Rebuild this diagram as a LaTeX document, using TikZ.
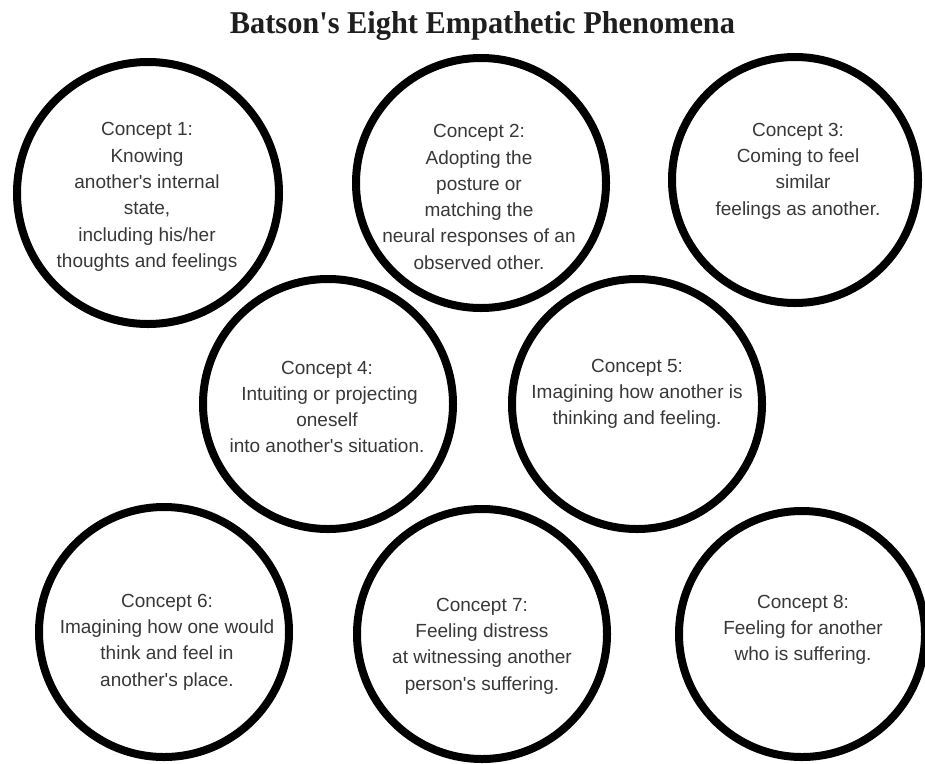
\documentclass[tikz,border=0pt]{standalone}
\usepackage{fontspec}
\setmainfont{Liberation Sans}
\newfontfamily\titlefont{Liberation Serif}
\usepackage{graphicx}
\definecolor{txt}{HTML}{383838}
\definecolor{ttl}{HTML}{1E1E1E}
\newcommand{\ap}{\textquotesingle}
\tikzset{
  ring/.style={circle, draw=black, line width=8pt, inner sep=0pt, minimum size=#1},
  ctext/.style={align=center, inner sep=0pt, text=txt, font=\fontsize{19}{26.3}\selectfont},
}
\begin{document}
\begin{tikzpicture}[x=1pt,y=-1pt]
\useasboundingbox (0,0) rectangle (925,763);
\fill[white] (0,0) rectangle (925,763);

\node[anchor=base, inner sep=0pt, text=ttl] (title) at (482.5,33)
  {\resizebox{505pt}{22pt}{\titlefont\bfseries Batson\ap s Eight Empathetic Phenomena}};

\node[ring=262pt] (c1) at (148,193) {};
\node[ring=250pt] (c2) at (481,183) {};
\node[ring=246pt] (c3) at (795,180) {};
\node[ring=250pt] (c4) at (328,404) {};
\node[ring=250pt] (c5) at (637,404) {};
\node[ring=250pt] (c6) at (164,632) {};
\node[ring=250pt] (c7) at (482,634) {};
\node[ring=246pt] (c8) at (802,634) {};

\node[ctext] (t1) at (147,197) {Concept 1:\\Knowing\\another\ap s internal\\state,\\including his/her\\thoughts and feelings};
\node[ctext] (t2) at (479,197) {Concept 2:\\Adopting the\\posture or\\matching the\\neural responses of an\\observed other.};
\node[ctext] (t3) at (798,171) {Concept 3:\\Coming to feel\\\hspace{10pt}similar\\feelings as another.};
\node[ctext] (t4) at (327,407) {Concept 4:\\\hspace{5pt}Intuiting or projecting\\oneself\\into another\ap s situation.};
\node[ctext] (t5) at (637,394) {Concept 5:\\Imagining how another is\\thinking and feeling.};
\node[ctext] (t6) at (167,642) {Concept 6:\\Imagining how one would\\think and feel in\\another\ap s place.};
\node[ctext] (t7) at (482,646) {Concept 7:\\Feeling distress\\at witnessing another\\person\ap s suffering.};
\node[ctext] (t8) at (803,630) {Concept 8:\\Feeling for another\\who is suffering.};
\end{tikzpicture}
\end{document}
